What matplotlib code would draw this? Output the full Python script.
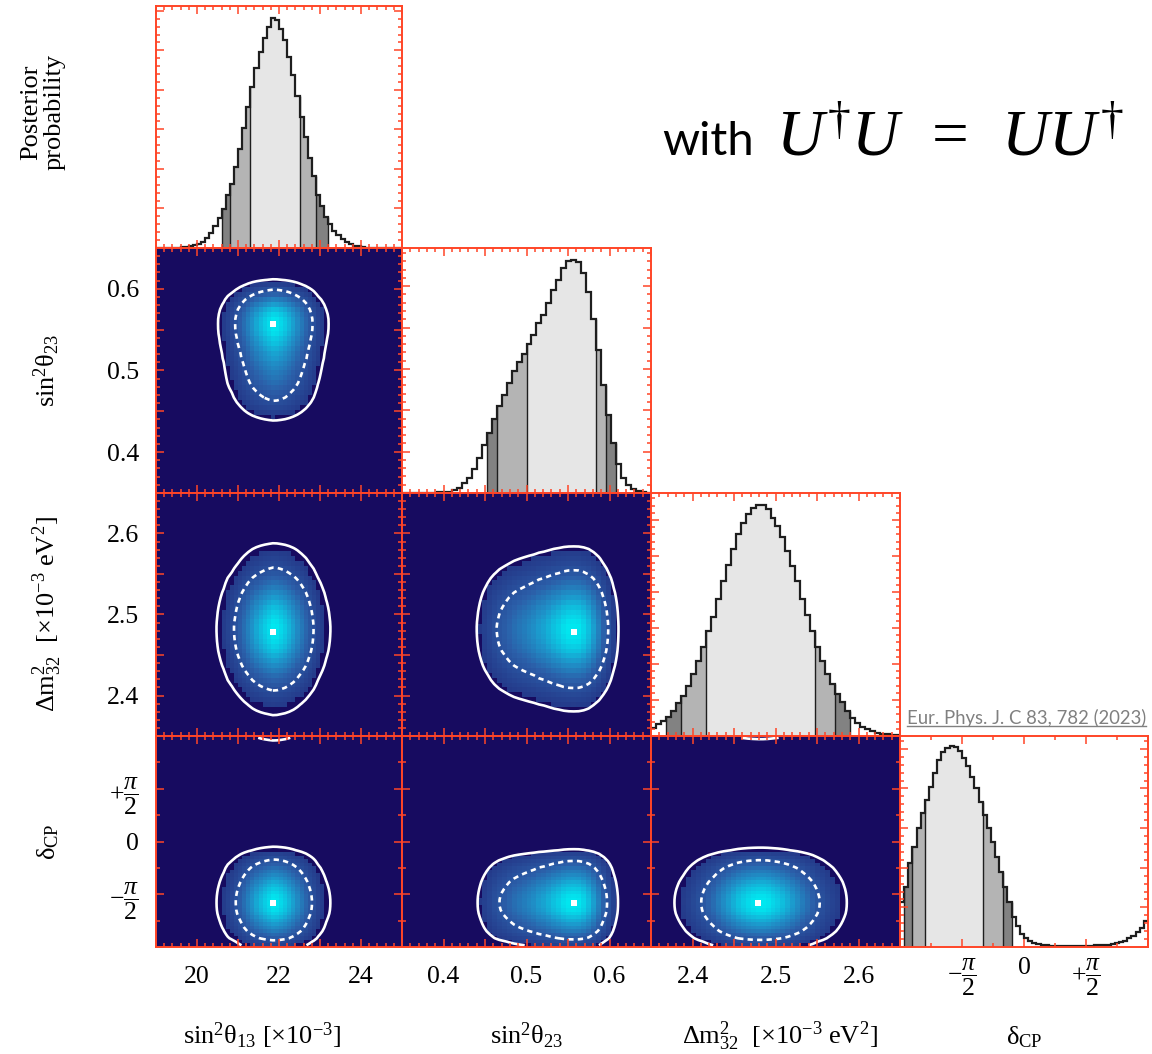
import numpy as np
import matplotlib

matplotlib.use("Agg")
import matplotlib.pyplot as plt  # noqa: E402
from matplotlib.colors import LinearSegmentedColormap  # noqa: E402
from matplotlib.lines import Line2D  # noqa: E402
from matplotlib.ticker import FuncFormatter, MultipleLocator  # noqa: E402

plt.rcParams.update({
    "font.family": ["Liberation Serif", "DejaVu Serif"],
    "mathtext.fontset": "custom",
    "mathtext.rm": "Liberation Serif",
    "mathtext.it": "Liberation Serif:italic",
    "mathtext.bf": "Liberation Serif:bold",
    "mathtext.fallback": "stix",
})

# ---- 1D marginal posteriors (per-bin probability, tick units) ----
S13_EDGES = np.linspace(19.0, 25.0, 61)          # sin^2 theta13 [x1e-3]
S13_PROB = [0, 0, 0, 0.01, 0.01, 0.01, 0.02, 0.03, 0.05, 0.07,
            0.10, 0.15, 0.26, 0.38, 0.55, 0.76, 0.99, 1.34, 1.63, 2.04,
            2.51, 3.03, 3.56, 4.08, 4.55, 4.96, 5.31, 5.60, 5.83, 5.77,
            5.54, 5.25, 4.84, 4.37, 3.85, 3.32, 2.80, 2.27, 1.81, 1.34,
            1.05, 0.79, 0.61, 0.44, 0.32, 0.22, 0.14, 0.09, 0.06, 0.04,
            0.02, 0.01, 0.01, 0.01, 0, 0, 0, 0, 0, 0]
S13_BANDS = [(20.6, 23.2), (20.8, 22.9), (21.3, 22.5)]   # 95%, 90%, 68%

S23_EDGES = np.linspace(0.35, 0.65, 51)          # sin^2 theta23
S23_PROB = [0, 0, 0, 0, 0.01, 0.01, 0.01, 0.02, 0.03, 0.03,
            0.07, 0.13, 0.25, 0.37, 0.58, 0.85, 1.15, 1.46, 1.80, 2.11,
            2.37, 2.67, 2.94, 3.16, 3.37, 3.59, 3.81, 4.12, 4.30, 4.59,
            4.91, 5.14, 5.44, 5.60, 5.64, 5.59, 5.32, 4.87, 4.20, 3.45,
            2.62, 1.89, 1.21, 0.70, 0.37, 0.19, 0.09, 0.04, 0.02, 0.01]
S23_BANDS = [(0.452, 0.608), (0.464, 0.596), (0.500, 0.584)]

DM_EDGES = np.linspace(2.35, 2.65, 51)           # dm^2_32 [x1e-3 eV^2]
DM_PROB = [0.22, 0.33, 0.42, 0.54, 0.70, 0.91, 1.12, 1.40, 1.72, 2.09,
           2.48, 2.91, 3.31, 3.81, 4.30, 4.75, 5.19, 5.61, 5.91, 6.17,
           6.33, 6.43, 6.43, 6.31, 6.07, 5.84, 5.52, 5.15, 4.73, 4.30,
           3.81, 3.37, 2.93, 2.46, 2.09, 1.72, 1.44, 1.17, 0.94, 0.70,
           0.49, 0.35, 0.26, 0.19, 0.13, 0.09, 0.06, 0.05, 0.04, 0.03]
DM_BANDS = [(2.368, 2.590), (2.386, 2.572), (2.416, 2.548)]

DCP_EDGES = np.linspace(-np.pi, np.pi, 61)       # delta_CP
DCP_PROB = [1.14, 1.52, 2.11, 2.53, 2.99, 3.37, 3.71, 4.04, 4.38, 4.71,
            4.92, 5.03, 5.07, 5.05, 4.95, 4.78, 4.56, 4.28, 4.00, 3.66,
            3.33, 2.99, 2.66, 2.28, 1.90, 1.52, 1.14, 0.76, 0.53, 0.34,
            0.22, 0.14, 0.09, 0.07, 0.05, 0.04, 0.03, 0.03, 0.03, 0.03,
            0.03, 0.03, 0.03, 0.03, 0.03, 0.03, 0.03, 0.04, 0.04, 0.05,
            0.06, 0.07, 0.09, 0.12, 0.16, 0.22, 0.29, 0.38, 0.49, 0.65]
DCP_BANDS = [(-3.04, -0.31), (-2.83, -0.52), (-2.51, -1.05)]

AXIS_LABELS = [r"$\mathrm{sin^2\theta_{13}\ [\times10^{-3}]}$",
               r"$\mathrm{sin^2\theta_{23}}$",
               r"$\mathrm{\Delta m^2_{32}\ \ [\times10^{-3}\ eV^2]}$",
               r"$\mathrm{\delta_{CP}}$"]
CITATION = "Eur. Phys. J. C 83, 782 (2023)"

FRAME = "#ff4527"
NAVY = "#170b60"
SHADES = ["#828282", "#b4b4b4", "#e6e6e6"]     # 95%, 90%, 68% credible intervals
CMAP = LinearSegmentedColormap.from_list(
    "post", [(0, "#243a8a"), (0.35, "#2b5fa9"), (0.65, "#1e93c9"), (0.88, "#0bc8e2"), (1, "#00e8f0")])
CMAP.set_under(NAVY)

W, H = 1152, 1054
COL_X = [156, 402, 651, 900]
COL_W = [246, 249, 249, 248]
ROW_Y = [6, 248, 493, 736]
ROW_H = [242, 245, 243, 211]


def ticks_every(step, fmt):
    def f(v, _):
        r = v / step
        return fmt.format(v) if abs(r - round(r)) < 1e-6 else ""
    return FuncFormatter(f)


def dcp_fmt(v, _):
    k = int(round(v / (np.pi / 2)))
    return {-1: r"$-\dfrac{\pi}{2}$", 0: "0", 1: r"$+\dfrac{\pi}{2}$"}.get(k, "")


PARAMS = [
    dict(edges=S13_EDGES, prob=np.array(S13_PROB), bands=S13_BANDS,
         major=1.0, minor=0.2, fmt=ticks_every(2.0, "{:.0f}"), xpad=14),
    dict(edges=S23_EDGES, prob=np.array(S23_PROB), bands=S23_BANDS,
         major=0.05, minor=0.01, fmt=ticks_every(0.1, "{:.1f}"), xpad=14),
    dict(edges=DM_EDGES, prob=np.array(DM_PROB), bands=DM_BANDS,
         major=0.05, minor=0.01, fmt=ticks_every(0.1, "{:.1f}"), xpad=14),
    dict(edges=DCP_EDGES, prob=np.array(DCP_PROB), bands=DCP_BANDS,
         major=np.pi / 2, minor=np.pi / 4, fmt=FuncFormatter(dcp_fmt), xpad=7),
]


def add_panel(fig, r, c):
    return fig.add_axes([COL_X[c] / W, 1 - (ROW_Y[r] + ROW_H[r]) / H, COL_W[c] / W, ROW_H[r] / H])


def frame(ax):
    for s in ax.spines.values():
        s.set_color(FRAME)
        s.set_linewidth(1.4)
        s.set_zorder(5)
    ax.set_axisbelow(False)
    ax.tick_params(which="both", direction="in", top=True, right=True, color=FRAME,
                   width=1.1, labelsize=18.5)
    ax.tick_params(which="major", length=6)
    ax.tick_params(which="minor", length=3)
    ax.tick_params(axis="y", pad=12)


def set_axis(axis, p, labels):
    axis.set_major_locator(MultipleLocator(p["major"]))
    axis.set_minor_locator(MultipleLocator(p["minor"]))
    if labels:
        axis.set_major_formatter(p["fmt"])
    else:
        axis.set_major_formatter(FuncFormatter(lambda v, _: ""))


def draw_hist(ax, p):
    edges, h = p["edges"], p["prob"]
    centers = 0.5 * (edges[:-1] + edges[1:])
    for (lo, hi), col in zip(p["bands"], SHADES):
        m = (centers > lo) & (centers < hi)
        ax.stairs(np.where(m, h, 0.0), edges, fill=True, color=col, lw=0)
        idx = np.flatnonzero(m)
        ax.vlines([edges[idx[0]], edges[idx[-1] + 1]], 0, [h[idx[0]], h[idx[-1]]],
                  color="#1e1e1e", lw=1.0)
    ax.stairs(h, edges, color="#1e1e1e", lw=1.6, baseline=None)
    ax.set_xlim(edges[0], edges[-1])
    ax.set_ylim(0, 1.05 * h.max())
    ax.yaxis.set_major_locator(MultipleLocator(1.0))
    ax.yaxis.set_minor_locator(MultipleLocator(0.2))
    ax.yaxis.set_major_formatter(FuncFormatter(lambda v, _: ""))


def hpd_level(z, frac):
    v = np.sort(z.ravel())[::-1]
    c = np.cumsum(v) / v.sum()
    return v[np.searchsorted(c, frac)]


def draw_2d(ax, px, py):
    z = np.outer(py["prob"], px["prob"])
    z = z / z.max()
    xe, ye = px["edges"], py["edges"]
    xc, yc = 0.5 * (xe[:-1] + xe[1:]), 0.5 * (ye[:-1] + ye[1:])
    ax.set_facecolor(NAVY)
    ax.pcolormesh(xe, ye, z, cmap=CMAP, vmin=0.15, vmax=1.0, shading="flat")
    l90, l68 = hpd_level(z, 0.90), hpd_level(z, 0.68)
    ax.contour(xc, yc, z, levels=[l90, l68], colors="white", linewidths=1.9,
               linestyles=["solid", (0, (2.0, 1.6))])
    iy, ix = np.unravel_index(z.argmax(), z.shape)
    ax.plot(xc[ix], yc[iy], "s", color="white", ms=4, mew=0)
    ax.set_xlim(xe[0], xe[-1])
    ax.set_ylim(ye[0], ye[-1])


fig = plt.figure(figsize=(W / 100, H / 100), dpi=100)

for r in range(4):
    for c in range(r + 1):
        ax = add_panel(fig, r, c)
        frame(ax)
        ax.tick_params(axis="x", pad=PARAMS[c]["xpad"])
        if r == c:
            draw_hist(ax, PARAMS[c])
            set_axis(ax.xaxis, PARAMS[c], r == 3)
        else:
            draw_2d(ax, PARAMS[c], PARAMS[r])
            set_axis(ax.xaxis, PARAMS[c], r == 3)
            set_axis(ax.yaxis, PARAMS[r], c == 0)

# axis titles
fig.text(43 / W, 1 - 112 / H, "Posterior\nprobability", rotation=90, ha="center", va="center",
         fontsize=19, linespacing=1.1)
for r, lab in zip(range(1, 4), AXIS_LABELS[1:]):
    yc = 1 - (ROW_Y[r] + ROW_H[r] / 2) / H
    fig.text(55 / W, yc, lab, rotation=90, rotation_mode="anchor", ha="center", va="baseline",
             fontsize=19)
for c, (xc, lab) in enumerate(zip([262, 527, 780, 1024], AXIS_LABELS)):
    fig.text(xc / W, 1 - 1044 / H, lab, ha="center", va="baseline", fontsize=19)

# annotations
fig.text(662 / W, 1 - 155 / H, "with", family=["Lato", "DejaVu Sans"], fontsize=34, va="baseline")
fig.text(776 / W, 1 - 155 / H, r"$U^{\dagger}U\ \,=\ \,UU^{\dagger}$", fontsize=47, va="baseline")
cite = fig.text(907 / W, 1 - 724 / H, CITATION, family=["Lato", "DejaVu Sans"], fontsize=14,
                color="#808080", va="baseline")
fig.canvas.draw()
bb = cite.get_window_extent()
if bb.width > 240:
    cite.set_fontsize(14 * 240 / bb.width)
    fig.canvas.draw()
    bb = cite.get_window_extent()
fig.add_artist(Line2D([bb.x0 / W, bb.x1 / W], [(bb.y0 + 1) / H] * 2, transform=fig.transFigure,
                      color="#808080", lw=1.0))

fig.savefig("out.png", dpi=100)
